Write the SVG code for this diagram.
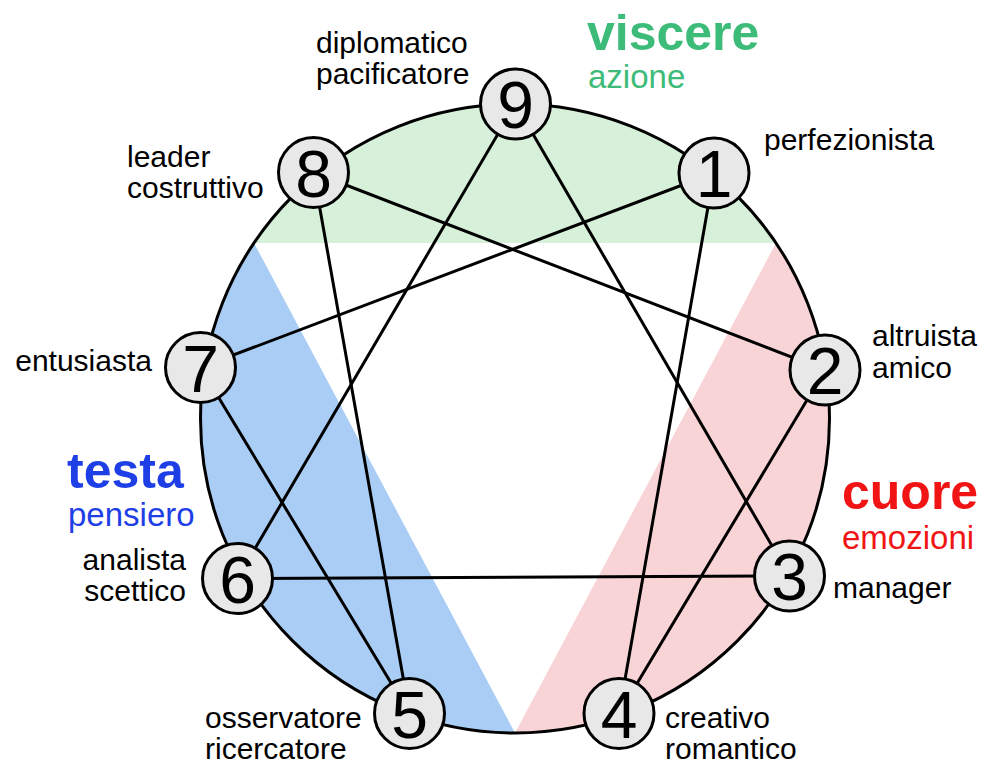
<svg xmlns="http://www.w3.org/2000/svg" width="1000" height="776" viewBox="0 0 1000 776">
<style>
.lbl{font-family:"Liberation Sans",Arial,sans-serif;font-size:30px;fill:#000}
.num{font-family:"Liberation Sans",Arial,sans-serif;font-size:66px;fill:#000;text-anchor:middle}
.nc{fill:#e8e8e8;stroke:#000;stroke-width:3}
.ln{stroke:#000;stroke-width:3;fill:none;stroke-linecap:round}
.big{font-family:"Liberation Sans",Arial,sans-serif;font-size:50px;font-weight:bold}
.sub{font-family:"Liberation Sans",Arial,sans-serif;font-size:33px}
</style>
<rect width="1000" height="776" fill="#fff"/>
<g id="regions">
<path d="M254,243 A314.5,314.5 0 0 1 776,243 Z" fill="#d6f0da"/>
<path d="M254,243 L515,733 A314.5,314.5 0 0 1 254,243 Z" fill="#a9cdf5"/>
<path d="M776,243 L515,733 A314.5,314.5 0 0 0 776,243 Z" fill="#f9d4d6"/>
<circle cx="515" cy="418.5" r="314.5" fill="none" stroke="#000" stroke-width="3"/>
</g>
<g id="connectors">
<line class="ln" x1="714" y1="173" x2="619" y2="713.5"/>
<line class="ln" x1="619" y1="713.5" x2="825" y2="370"/>
<line class="ln" x1="825" y1="370" x2="313.5" y2="172.5"/>
<line class="ln" x1="313.5" y1="172.5" x2="409.5" y2="713.5"/>
<line class="ln" x1="409.5" y1="713.5" x2="200.5" y2="367.5"/>
<line class="ln" x1="200.5" y1="367.5" x2="714" y2="173"/>
<line class="ln" x1="515.5" y1="104" x2="789.5" y2="576"/>
<line class="ln" x1="789.5" y1="576" x2="237.5" y2="578.5"/>
<line class="ln" x1="237.5" y1="578.5" x2="515.5" y2="104"/>
</g>
<g id="n9"><circle class="nc" cx="515.5" cy="104" r="35"/><text class="num" x="515.5" y="128">9</text></g>
<g id="n1"><circle class="nc" cx="714" cy="173" r="35"/><text class="num" x="714" y="197">1</text></g>
<g id="n2"><circle class="nc" cx="825" cy="370" r="35"/><text class="num" x="825" y="394">2</text></g>
<g id="n3"><circle class="nc" cx="789.5" cy="576" r="35"/><text class="num" x="789.5" y="600">3</text></g>
<g id="n4"><circle class="nc" cx="619" cy="713.5" r="35"/><text class="num" x="619" y="737.5">4</text></g>
<g id="n5"><circle class="nc" cx="409.5" cy="713.5" r="35"/><text class="num" x="409.5" y="737.5">5</text></g>
<g id="n6"><circle class="nc" cx="237.5" cy="578.5" r="35"/><text class="num" x="237.5" y="602.5">6</text></g>
<g id="n7"><circle class="nc" cx="200.5" cy="367.5" r="35"/><text class="num" x="200.5" y="391.5">7</text></g>
<g id="n8"><circle class="nc" cx="313.5" cy="172.5" r="35"/><text class="num" x="313.5" y="196.5">8</text></g>
<g id="labels">
<text class="lbl" x="316" y="53">diplomatico</text>
<text class="lbl" x="316" y="84">pacificatore</text>
<text class="lbl" x="764" y="150">perfezionista</text>
<text class="lbl" x="127" y="167">leader</text>
<text class="lbl" x="127" y="198">costruttivo</text>
<text class="lbl" x="872" y="346">altruista</text>
<text class="lbl" x="872" y="378">amico</text>
<text class="lbl" x="152" y="371" text-anchor="end">entusiasta</text>
<text class="lbl" x="186" y="570" text-anchor="end">analista</text>
<text class="lbl" x="186" y="601" text-anchor="end">scettico</text>
<text class="lbl" x="833" y="598">manager</text>
<text class="lbl" x="205" y="728">osservatore</text>
<text class="lbl" x="205" y="759">ricercatore</text>
<text class="lbl" x="665" y="728">creativo</text>
<text class="lbl" x="665" y="759">romantico</text>
</g>
<g id="groups">
<text class="big" x="587" y="50" fill="#3dbb78">viscere</text>
<text class="sub" x="588" y="88" fill="#3dbb78">azione</text>
<text class="big" x="67" y="488" fill="#1f3fe6">testa</text>
<text class="sub" x="68" y="526" fill="#1f3fe6">pensiero</text>
<text class="big" x="842" y="509" fill="#f01414">cuore</text>
<text class="sub" x="842" y="549" fill="#f01414">emozioni</text>
</g>
</svg>
